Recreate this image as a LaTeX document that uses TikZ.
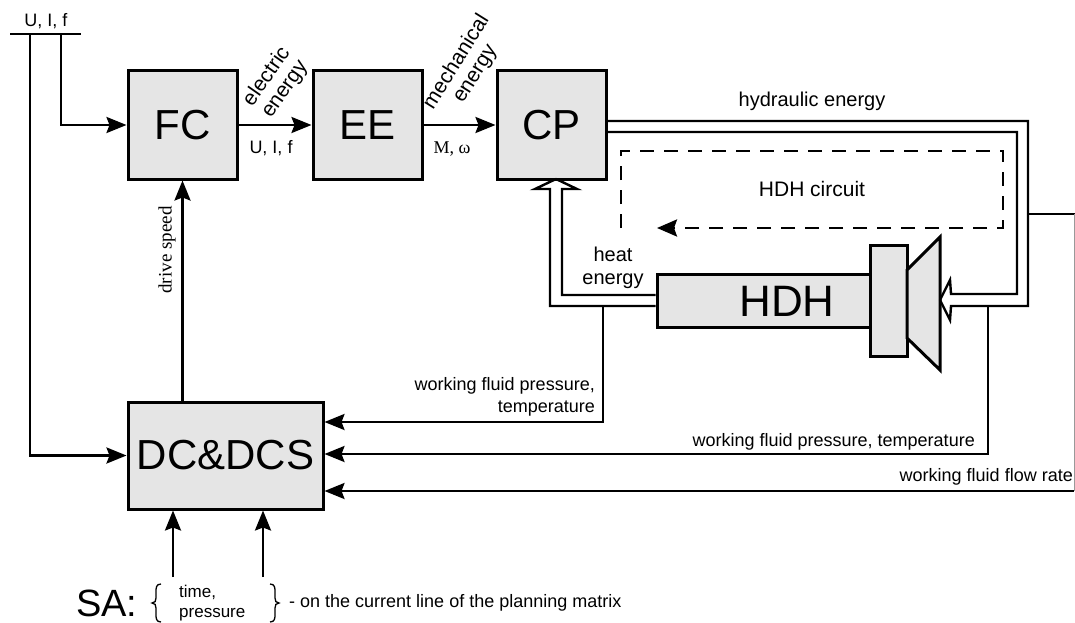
\documentclass[tikz,border=0pt]{standalone}
\usepackage{fontspec}
\setmainfont{Liberation Sans}
\newfontfamily\seriffont{Liberation Serif}
\usetikzlibrary{arrows.meta}
\begin{document}
\begin{tikzpicture}[x=1pt,y=-1pt,
  blk/.style={draw, line width=3pt, fill=black!10, inner sep=0pt, font=\fontsize{42}{48}\selectfont},
  arr/.style={line width=2.6pt, -{Stealth[length=20pt,width=16pt,inset=3pt]}},
  lbl/.style={font=\fontsize{18}{22}\selectfont, inner sep=0pt},
  rotlbl/.style={font=\fontsize{21}{22}\selectfont, inner sep=0pt, align=center},
  biglbl/.style={font=\fontsize{20}{23}\selectfont, inner sep=0pt},
  hyd/.style={line width=2.4pt, line join=miter},
  brace/.style={line width=1.3pt},
  dashln/.style={line width=2.6pt, dash pattern=on 14pt off 10pt, -{Stealth[length=20pt,width=17pt,inset=3pt]}}
]
\useasboundingbox (0,0) rectangle (1075,623);
\fill[white] (0,0) rectangle (1075,623);

% blocks
\node[blk, minimum width=109pt, minimum height=108pt] (fc) at (182.5,125) {FC};
\node[blk, minimum width=109pt, minimum height=108pt] (ee) at (367.5,125) {EE};
\node[blk, minimum width=109pt, minimum height=108pt] (cp) at (551.5,125) {CP};
\node[blk, minimum width=195pt, minimum height=107pt] (dc) at (225.5,455.5) {DC\&DCS};
\node[blk, minimum width=213pt, minimum height=53pt] (hdh) at (763.5,300.5) {};
\node[font=\fontsize{44}{50}\selectfont, inner sep=0pt] (hdhtext) at (787,301) {HDH};
\node[blk, minimum width=37pt, minimum height=111pt] (mot) at (888.5,300.5) {};
\draw[line width=3pt, fill=black!10, line join=miter] (907,270) -- (940,237) -- (940,370) -- (907,338) -- cycle;

% input bus
\coordinate (busL) at (10,34);
\coordinate (busR) at (81,34);
\coordinate (bus1) at (30,34);
\coordinate (bus2) at (61,34);
\draw[line width=2.6pt] (busL) -- (busR);
\node[lbl] (uif) at (46,21) {U, I, f};
\draw[arr] (bus2) |- (fc.west);
\draw[arr] (bus1) |- (dc.west);

% energy chain
\draw[arr] (fc) -- (ee);
\draw[arr] (ee) -- (cp);
\node[rotlbl, rotate=55] (elen) at (276,83) {electric\\energy};
\node[lbl] (uif2) at (271,148) {U, I, f};
\node[rotlbl, rotate=58] (mechen) at (466,68) {mechanical\\energy};
\node[lbl, font=\seriffont\fontsize{18}{22}\selectfont] (mw) at (452,149) {M, ω};

% drive speed
\draw[arr] (dc.north -| fc.south) -- (fc.south);
\node[lbl, rotate=90, font=\seriffont\fontsize{19}{22}\selectfont] (ds) at (167,250) {drive speed};

% hydraulic energy double arrow
\draw[hyd] (cp.east |- 0,121) -- (1028,121) -- (1028,306) -- (951,306) -- (950,320) -- (940,300);
\draw[hyd] (cp.east |- 0,132) -- (1017,132) -- (1017,294) -- (951,294) -- (950,280) -- (940,300);
\node[biglbl] (hyden) at (812,101) {hydraulic energy};

% heat energy double arrow
\draw[hyd] (hdh.west |- 0,306) -- (550,306) -- (550,189) -- (535,189) -- (556,179);
\draw[hyd] (hdh.west |- 0,295) -- (562,295) -- (562,189) -- (577,189) -- (556,179);
\node[biglbl, align=center] (heaten) at (613,268) {heat\\energy};

% HDH circuit
\draw[dashln] (621,228) -- (621,151) -- (1003,151) -- (1003,228) -- (657,228);
\node[font=\fontsize{21}{24}\selectfont, inner sep=0pt] (circ) at (812,189) {HDH circuit};

% feedback lines
\coordinate (w1) at (603,306);
\coordinate (w2) at (988,306);
\coordinate (w3) at (1074,491);
\draw[arr] (w1) |- (dc.east |- 0,422);
\draw[arr] (w2) |- (dc.east |- 0,454);
\draw[arr] (w3) -- (dc.east |- 0,491);
\draw[line width=2pt] (1028,214) -- (1075,214);
\draw[line width=1pt, black!40] (1074,214) -- (w3);
\node[lbl, align=right, anchor=east] (wf1) at (595,397) {working fluid pressure,\\temperature};
\node[lbl, anchor=east] (wf2) at (975,442) {working fluid pressure, temperature};
\node[lbl, anchor=east] (wf3) at (1073,477) {working fluid flow rate};

% set actions
\coordinate (sa1) at (173,577);
\coordinate (sa2) at (263,577);
\draw[arr] (sa1) -- (sa1 |- dc.south);
\draw[arr] (sa2) -- (sa2 |- dc.south);
\node[font=\fontsize{38}{42}\selectfont, inner sep=0pt, anchor=west] (sa) at (76,603) {SA:};
\draw[brace] (161,584) .. controls (156,584) and (156,588) .. (156,592) -- (156,598) .. controls (156,601) and (155,603) .. (152,603) .. controls (155,603) and (156,605) .. (156,608) -- (156,614) .. controls (156,618) and (156,622) .. (161,622);
\node[font=\fontsize{17}{20}\selectfont, inner sep=0pt, anchor=west, align=left] (tp) at (179,603) {time,\\pressure};
\draw[brace] (270,584) .. controls (275,584) and (275,588) .. (275,592) -- (275,598) .. controls (275,601) and (276,603) .. (279,603) .. controls (276,603) and (275,605) .. (275,608) -- (275,614) .. controls (275,618) and (275,622) .. (270,622);
\node[lbl, anchor=west] (note) at (289,603) {- on the current line of the planning matrix};
\end{tikzpicture}
\end{document}
